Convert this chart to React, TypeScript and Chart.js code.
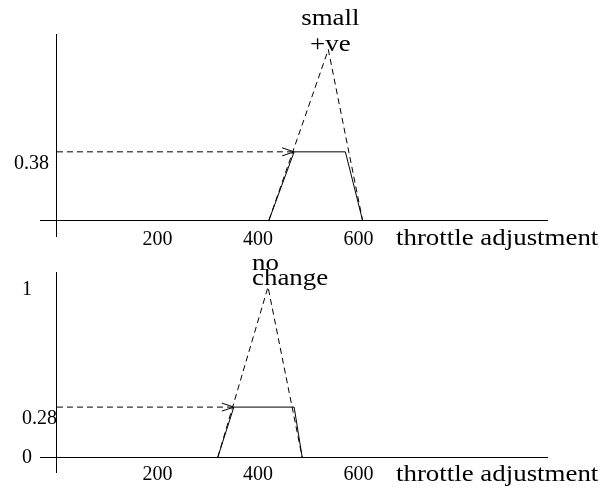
import React, { useEffect, useRef } from 'react';
import { Chart, registerables } from 'chart.js';

Chart.register(...registerables);

// ---------- data ----------
const X_TICKS = [0, 200, 400, 600];
const X_TITLE = 'throttle adjustment';

const TOP_Y_TICKS = [0, 0.38];
const TOP_TRIANGLE_X = [422, 540, 608];
const TOP_TRIANGLE_Y = [0, 0.95, 0];
const TOP_CLIPPED_X = [422, 472, 574, 608];
const TOP_CLIPPED_Y = [0, 0.38, 0.38, 0];
const TOP_LABEL = ['small', '+ve'];

const BOTTOM_Y_TICKS = [0, 0.28, 1];
const BOTTOM_TRIANGLE_X = [320, 420, 488];
const BOTTOM_TRIANGLE_Y = [0, 0.95, 0];
const BOTTOM_CLIPPED_X = [320, 352, 472, 488];
const BOTTOM_CLIPPED_Y = [0, 0.28, 0.28, 0];
const BOTTOM_LABEL = ['no', 'change'];

const FONT = "'Liberation Serif', 'Times New Roman', serif";

type Panel = {
  top: number;
  height: number;
  labelLeft: number;
  padTop: number;
  xAxisHeight: number;
  tickLen: number;
  xLabelPad: number;
  yMin: number;
  yMax: number;
  yTicks: number[];
  showZero: boolean;
  triX: number[];
  triY: number[];
  clipX: number[];
  clipY: number[];
  label: string[];
  labelAlign: 'center' | 'left';
  labelDx: number;
  labelDy: number[];
  titleDy: number;
};

const PANELS: Panel[] = [
  {
    top: 0,
    height: 260,
    labelLeft: 14,
    padTop: 34,
    xAxisHeight: 32,
    tickLen: 9,
    xLabelPad: -9,
    yMin: -0.0446,
    yMax: 1.037,
    yTicks: TOP_Y_TICKS,
    showZero: false,
    triX: TOP_TRIANGLE_X,
    triY: TOP_TRIANGLE_Y,
    clipX: TOP_CLIPPED_X,
    clipY: TOP_CLIPPED_Y,
    label: TOP_LABEL,
    labelAlign: 'center',
    labelDx: 2,
    labelDy: [-25, 1],
    titleDy: 25,
  },
  {
    top: 240,
    height: 248,
    labelLeft: 22,
    padTop: 32,
    xAxisHeight: 26,
    tickLen: 11,
    xLabelPad: -10,
    yMin: -0.026,
    yMax: 1.033,
    yTicks: BOTTOM_Y_TICKS,
    showZero: true,
    triX: BOTTOM_TRIANGLE_X,
    triY: BOTTOM_TRIANGLE_Y,
    clipX: BOTTOM_CLIPPED_X,
    clipY: BOTTOM_CLIPPED_Y,
    label: BOTTOM_LABEL,
    labelAlign: 'left',
    labelDx: -16,
    labelDy: [-17, -2],
    titleDy: 24,
  },
];

const W = 603;
const AREA_LEFT = 40;
const AREA_RIGHT = 548;
const X_MIN = -33.8;
const X_MAX = 977.2;
const TEXT_STRETCH = 1.12;

const pts = (xs: number[], ys: number[]) => xs.map((x, i) => ({ x, y: ys[i] }));

function stretchedText(ctx: CanvasRenderingContext2D, t: string, x: number, y: number, align: 'left' | 'center') {
  ctx.save();
  ctx.translate(x, y);
  ctx.scale(TEXT_STRETCH, 1);
  ctx.textAlign = align;
  ctx.textBaseline = 'alphabetic';
  ctx.fillText(t, 0, 0);
  ctx.restore();
}

function makeChart(canvas: HTMLCanvasElement, p: Panel) {
  const level = p.clipY[1];
  const tipX = p.clipX[1];
  const annot = {
    id: 'annot',
    afterDraw(chart: any) {
      const ctx: CanvasRenderingContext2D = chart.ctx;
      const xs = chart.scales.x;
      const ys = chart.scales.y;
      ctx.save();
      ctx.fillStyle = '#000';
      ctx.strokeStyle = '#000';
      ctx.lineWidth = 1;
      // arrow head
      const tx = xs.getPixelForValue(tipX);
      const ty = ys.getPixelForValue(level);
      ctx.beginPath();
      ctx.moveTo(tx - 12, ty - 4);
      ctx.lineTo(tx, ty);
      ctx.lineTo(tx - 12, ty + 4);
      ctx.stroke();
      // peak label
      ctx.font = `24px ${FONT}`;
      const px = xs.getPixelForValue(p.triX[1]);
      const py = ys.getPixelForValue(p.triY[1]);
      p.label.forEach((t, i) => {
        stretchedText(ctx, t, px + p.labelDx, py + p.labelDy[i], p.labelAlign);
      });
      // axis title
      const y0 = ys.getPixelForValue(0);
      stretchedText(ctx, X_TITLE, chart.chartArea.right - 152, y0 + p.titleDy, 'left');
      ctx.restore();
    },
  };

  const axisColor = (c: any) => (c.tick && c.tick.value === 0 ? '#000' : 'rgba(0,0,0,0)');

  return new Chart(canvas, {
    type: 'line',
    data: {
      datasets: [
        {
          data: pts(p.triX, p.triY),
          borderColor: '#000',
          borderWidth: 1,
          borderDash: [6, 4],
          pointRadius: 0,
          tension: 0,
          fill: false,
        },
        {
          data: pts(p.clipX, p.clipY),
          borderColor: '#000',
          borderWidth: 1,
          pointRadius: 0,
          tension: 0,
          fill: false,
        },
        {
          data: [
            { x: 0, y: level },
            { x: tipX, y: level },
          ],
          borderColor: '#000',
          borderWidth: 1,
          borderDash: [6, 4],
          pointRadius: 0,
          tension: 0,
          fill: false,
        },
      ],
    },
    options: {
      responsive: false,
      animation: false,
      events: [],
      layout: { padding: { left: 0, top: p.padTop, right: W - AREA_RIGHT, bottom: 0 } },
      plugins: { legend: { display: false }, tooltip: { enabled: false }, title: { display: false } },
      scales: {
        x: {
          type: 'linear',
          position: 'bottom',
          min: X_MIN,
          max: X_MAX,
          afterBuildTicks: (s: any) => {
            s.ticks = X_TICKS.map((v) => ({ value: v }));
          },
          afterFit: (s: any) => {
            s.height = p.xAxisHeight;
          },
          border: { display: false },
          grid: {
            drawTicks: true,
            tickLength: p.tickLen,
            color: axisColor,
            tickColor: axisColor,
            lineWidth: 1,
          },
          ticks: {
            autoSkip: false,
            maxRotation: 0,
            padding: p.xLabelPad,
            color: '#000',
            font: { family: FONT, size: 20 },
            callback: (v: any) => (v === 0 ? '' : String(v)),
          },
        },
        y: {
          type: 'linear',
          position: 'left',
          min: p.yMin,
          max: p.yMax,
          afterBuildTicks: (s: any) => {
            s.ticks = p.yTicks.map((v) => ({ value: v }));
          },
          afterFit: (s: any) => {
            s.width = AREA_LEFT;
          },
          border: { display: false },
          grid: { drawTicks: false, tickLength: 0, color: axisColor, lineWidth: 1 },
          ticks: {
            mirror: true,
            crossAlign: 'near',
            padding: p.labelLeft - AREA_LEFT,
            color: '#000',
            font: { family: FONT, size: 20, lineHeight: 1.2 },
            callback: (v: any) => (v === 0 ? (p.showZero ? '0' : '') : ['', String(v)]),
          },
        },
      },
    },
    plugins: [annot],
  } as any);
}

function PanelChart({ panel }: { panel: Panel }) {
  const ref = useRef<HTMLCanvasElement | null>(null);
  useEffect(() => {
    if (!ref.current) return;
    const chart = makeChart(ref.current, panel);
    return () => chart.destroy();
  }, [panel]);
  return (
    <canvas
      ref={ref}
      width={W}
      height={panel.height}
      style={{ position: 'absolute', left: 0, top: panel.top, width: W, height: panel.height }}
    />
  );
}

export default function App() {
  return (
    <div style={{ position: 'absolute', left: 0, top: 0, width: W, height: 488, background: '#fff' }}>
      {PANELS.map((p, i) => (
        <PanelChart key={i} panel={p} />
      ))}
    </div>
  );
}
